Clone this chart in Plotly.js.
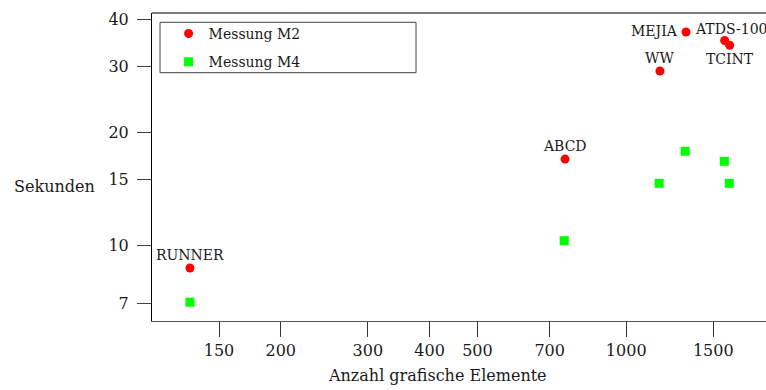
<!DOCTYPE html>
<html>
<head>
<meta charset="utf-8">
<script src="https://cdn.plot.ly/plotly-3.0.1.min.js"></script>
<style>html,body{margin:0;padding:0;background:#fff;}#chart{width:766px;height:390px;}</style>
</head>
<body>
<div id="chart"></div>
<script>
// Data
const labelsM2 = ['RUNNER', 'ABCD', 'WW', 'MEJIA', 'ATDS-100', 'TCINT'];
const elementsM2 = [131, 752, 1170, 1321, 1582, 1619];
const secondsM2 = [8.71, 17.0, 29.2, 37.1, 35.2, 34.2];
const elementsM4 = [131, 749, 1166, 1316, 1579, 1616];
const secondsM4 = [7.06, 10.3, 14.65, 17.84, 16.77, 14.65];
const xTicks = [150, 200, 300, 400, 500, 700, 1000, 1500];
const yTicks = [7, 10, 15, 20, 30, 40];

// Label placement (style only)
const labelPlacement = [
  {xanchor: 'center', dx: 0, dy: 13},
  {xanchor: 'center', dx: 0, dy: 13},
  {xanchor: 'center', dx: 0, dy: 13},
  {xanchor: 'right', dx: -6, dy: 1},
  {xanchor: 'center', dx: 6, dy: 12},
  {xanchor: 'center', dx: 0, dy: -14}
];

const FONT = 'DejaVu Serif';
const TXT = '#1a1a1a';

const traces = [
  {
    type: 'scatter', mode: 'markers', name: 'Messung M2', legendgroup: 'a',
    x: elementsM2, y: secondsM2,
    marker: {symbol: 'circle', size: 9, color: '#ff0000'},
    cliponaxis: false
  },
  {
    type: 'scatter', mode: 'markers', name: 'Messung M4', legendgroup: 'b',
    x: elementsM4, y: secondsM4,
    marker: {symbol: 'square', size: 9, color: '#00ff00'},
    cliponaxis: false
  }
];

const annotations = labelsM2.map((t, i) => ({
  text: t, xref: 'x', yref: 'y',
  x: Math.log10(elementsM2[i]), y: Math.log10(secondsM2[i]),
  showarrow: false, xanchor: labelPlacement[i].xanchor, yanchor: 'middle',
  xshift: labelPlacement[i].dx, yshift: labelPlacement[i].dy,
  font: {family: FONT, size: 14, color: TXT}
}));
annotations.push({
  text: 'Anzahl grafische Elemente', xref: 'paper', yref: 'paper',
  x: 0.4655, y: -0.177, xanchor: 'center', yanchor: 'middle', showarrow: false,
  font: {family: FONT, size: 16, color: TXT}
});
annotations.push({
  text: 'Sekunden', xref: 'paper', yref: 'paper',
  x: -0.1585, y: 0.438, xanchor: 'center', yanchor: 'middle', showarrow: false,
  font: {family: FONT, size: 16, color: TXT}
});

const layout = {
  width: 766, height: 390,
  margin: {l: 152, r: 0, t: 13, b: 69, pad: 0},
  paper_bgcolor: '#ffffff', plot_bgcolor: '#ffffff',
  font: {family: FONT, size: 16, color: TXT},
  showlegend: true,
  legend: {
    x: 0.027, y: 0.984, xanchor: 'left', yanchor: 'top',
    bgcolor: 'rgba(0,0,0,0)', borderwidth: 0,
    font: {family: FONT, size: 14, color: TXT},
    tracegroupgap: 7, traceorder: 'grouped'
  },
  xaxis: {
    type: 'log', range: [2.0405, 3.2828],
    tickvals: xTicks, ticktext: xTicks.map(String),
    ticks: 'outside', ticklen: 15, tickwidth: 1, tickcolor: '#333',
    showline: true, linecolor: '#555', linewidth: 1,
    showgrid: false, zeroline: false,
    tickfont: {family: FONT, size: 16, color: TXT}
  },
  yaxis: {
    type: 'log', range: [0.7986, 1.620],
    tickvals: yTicks, ticktext: yTicks.map(String),
    ticks: 'outside', ticklen: 14, tickwidth: 1, tickcolor: '#444',
    ticklabelstandoff: 5,
    showline: true, linecolor: '#000', linewidth: 1,
    showgrid: false, zeroline: false,
    tickfont: {family: FONT, size: 16, color: TXT}
  },
  shapes: [
    {type: 'line', xref: 'paper', yref: 'paper', x0: 0, x1: 1, y0: 1, y1: 1,
     line: {color: '#000', width: 1}},
    {type: 'rect', xref: 'paper', yref: 'paper',
     x0: (160 - 152) / 614, x1: (416 - 152) / 614,
     y0: (321 - 72.7) / 308, y1: (321 - 22.3) / 308,
     line: {color: '#444', width: 1}}
  ],
  annotations: annotations
};

Plotly.newPlot('chart', traces, layout, {displayModeBar: false, staticPlot: true});
</script>
</body>
</html>
